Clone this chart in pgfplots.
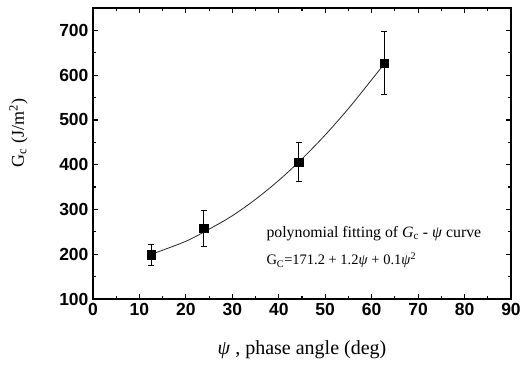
\documentclass[border=0pt]{standalone}
\usepackage{fontspec}
\setmainfont{Liberation Serif}
\setsansfont{Liberation Sans}
\usepackage{pgfplots}
\pgfplotsset{compat=1.18}
\begin{document}
\begin{tikzpicture}[x=1pt,y=1pt]
\useasboundingbox (0,0) rectangle (521,365);
\begin{axis}[
  at={(93pt,66pt)}, anchor=south west,
  scale only axis, width=418pt, height=291pt,
  xmin=0, xmax=90, ymin=100, ymax=750,
  xtick={0,10,...,90}, ytick={100,200,...,700},
  minor x tick num=1, minor y tick num=1,
  tick align=inside, major tick length=5pt, minor tick length=3pt,
  axis line style={line width=1.6pt},
  every tick/.style={line width=1.2pt, black},
  /pgf/number format/assume math mode=true,
  ticklabel style={font=\fontsize{17.5}{19}\sffamily\bfseries},
  xticklabel style={yshift=-1pt},
  yticklabel style={xshift=-1pt},
  xlabel={\textit{ψ} , phase angle (deg)},
  xlabel style={font=\fontsize{20}{22}\selectfont, yshift=-18pt},
  ylabel={G\textsubscript{c} (J/m\textsuperscript{2})},
  ylabel style={font=\fontsize{18}{20}\selectfont, at={(axis description cs:-0.148,0.57)}},
  clip=false,
]
\addplot[black!85, line width=0.8pt, smooth] coordinates {
 (13,201.5) (20,229) (25,256) (30,286) (35,322.7) (40,365) (45,413) (50,466.5) (55,525.4) (60,589.8) (63,629)
};
\addplot[only marks, mark=square*, mark size=4.3pt, black,
  error bars/.cd, y dir=both, y explicit, error bar style={line width=1pt}, error mark options={rotate=90, mark size=3pt, line width=0.8pt}]
 coordinates {
 (12.5,199) +- (0,23)
 (23.8,258) +- (0,40)
 (44.3,406) +- (0,44)
 (62.7,627) +- (0,70)
};
\node[anchor=west, font=\fontsize{15.8}{18}\selectfont] at (axis cs:36.6,247) {polynomial fitting of \textit{G}\textsubscript{c} - \textit{ψ} curve};
\node[anchor=west, font=\fontsize{14.5}{17}\selectfont] at (axis cs:36.6,186) {G\textsubscript{C}=171.2 + 1.2\textit{ψ} + 0.1\textit{ψ}\textsuperscript{2}};
\end{axis}
\end{tikzpicture}
\end{document}
